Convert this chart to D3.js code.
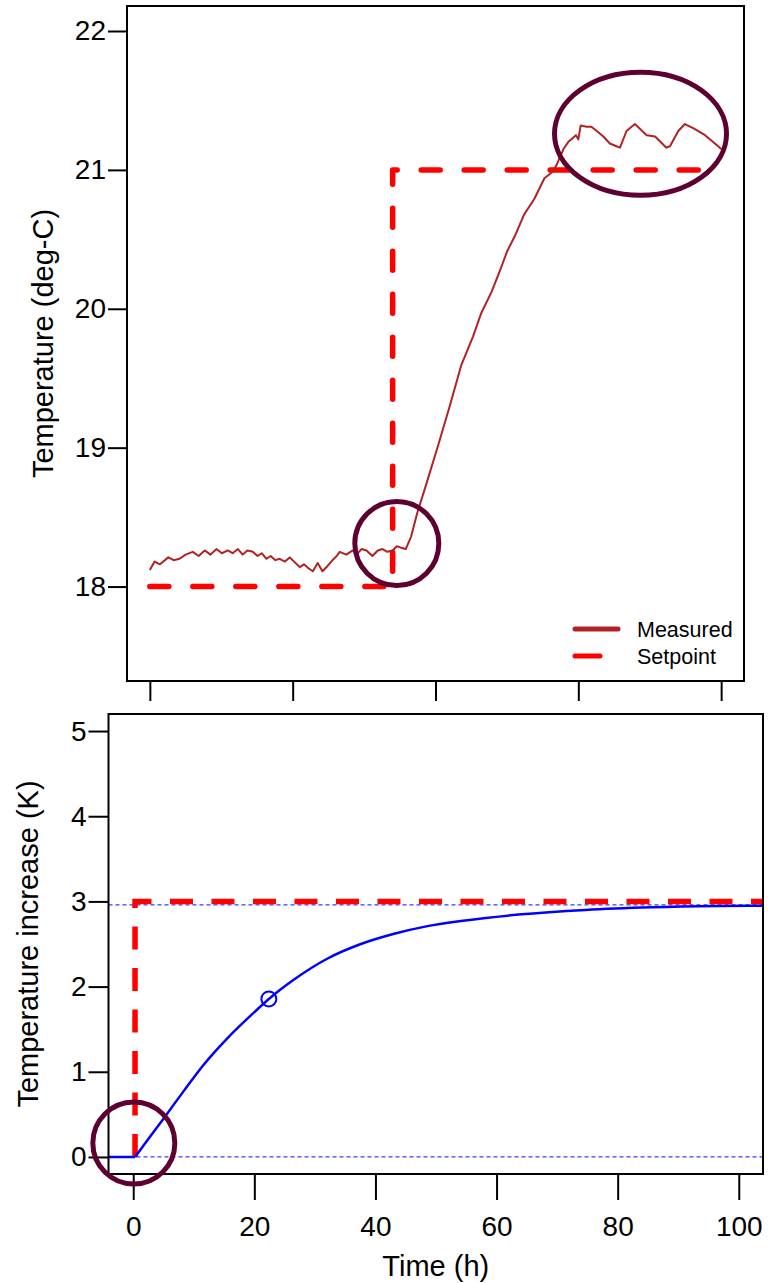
<!DOCTYPE html>
<html>
<head>
<meta charset="utf-8">
<script src="https://cdn.jsdelivr.net/npm/d3@7"></script>
<style>
body { margin: 0; background: #fff; }
</style>
</head>
<body>
<div id="wrapper"></div>
<script>
const width = 768
const height = 1283

// top panel: measured room temperature vs setpoint (time in h)
const measTime = [0, 0.8, 1.7, 3.1, 4.0, 5.0, 6.0, 7.2, 8.2, 9.2, 10.2, 11.2, 12.1, 13.1, 13.9, 14.8, 15.6, 16.4, 17.3, 18.1, 18.8, 19.6, 20.3, 21.1, 21.8, 22.7, 23.5, 24.0, 24.7, 25.2, 25.9, 26.7, 27.4, 28.2, 29.0, 29.9, 30.7, 31.4, 31.9, 33.0, 34.1, 34.9, 35.6, 36.4, 36.9, 37.4, 38.3, 39.1, 39.9, 40.8, 41.5, 42.2, 43.0, 43.9, 45.0, 46.4, 48.4, 50.4, 52.3, 54.3, 55.7, 57.4, 58.7, 60.1, 61.3, 62.9, 64.6, 66.3, 67.8, 68.5, 69.5, 70.3, 71.6, 72.0, 72.4, 73.4, 74.2, 75.1, 76.2, 77.3, 78.4, 79.0, 80.1, 81.5, 83.5, 84.9, 86.8, 87.4, 88.8, 89.9, 91.3, 93.3, 95.5, 96.0]
const measTemp = [18.12, 18.18, 18.16, 18.21, 18.19, 18.20, 18.23, 18.25, 18.22, 18.26, 18.23, 18.27, 18.24, 18.26, 18.24, 18.27, 18.23, 18.26, 18.25, 18.22, 18.24, 18.20, 18.22, 18.19, 18.20, 18.18, 18.21, 18.19, 18.16, 18.14, 18.16, 18.13, 18.11, 18.17, 18.11, 18.15, 18.19, 18.22, 18.25, 18.23, 18.26, 18.24, 18.27, 18.26, 18.24, 18.22, 18.26, 18.27, 18.25, 18.26, 18.29, 18.28, 18.27, 18.36, 18.54, 18.73, 19.01, 19.30, 19.59, 19.80, 19.97, 20.12, 20.26, 20.42, 20.52, 20.68, 20.79, 20.94, 20.99, 21.05, 21.15, 21.20, 21.25, 21.22, 21.32, 21.31, 21.31, 21.28, 21.24, 21.19, 21.17, 21.16, 21.28, 21.33, 21.25, 21.24, 21.16, 21.17, 21.28, 21.33, 21.30, 21.25, 21.17, 21.15]
const setTime = [0, 40.8, 40.8, 96]
const setTemp = [18, 18, 21, 21]
const topXTicks = [0, 24, 48, 72, 96]
const topYTicks = [18, 19, 20, 21, 22]
const legendLabels = ["Measured", "Setpoint"]

// bottom panel: step response of the model
const flatTime = [-4.5, 0.3]
const flatVal = [0, 0]
const respTime = [0.3, 2.8, 5.0, 8.3, 11.6, 15.5, 19.4, 22.4, 26.5, 32.1, 37.6, 43.1, 48.6, 54.1, 63.6, 74.7, 85.7, 96.7, 104.5]
const respVal = [0, 0.24, 0.45, 0.77, 1.08, 1.39, 1.66, 1.855, 2.08, 2.33, 2.50, 2.62, 2.71, 2.77, 2.845, 2.90, 2.93, 2.945, 2.95]
const stepTime = [0.3, 0.3, 106]
const stepVal = [0, 3, 3]
const refLevels = [0, 2.96]
const markTime = [22.4]
const markVal = [1.855]
const botXTicks = [0, 20, 40, 60, 80, 100]
const botYTicks = [0, 1, 2, 3, 4, 5]

const svg = d3.select("#wrapper").append("svg")
    .attr("width", width)
    .attr("height", height)
    .style("font-family", "'Liberation Sans', Arial, sans-serif")

const boxA = {left: 127, right: 744, top: 6, bottom: 681}
const boxB = {left: 108.5, right: 763, top: 714, bottom: 1174}

const xTop = d3.scaleLinear().domain([-3.84, 99.84]).range([boxA.left, boxA.right])
const yTop = d3.scaleLinear().domain([17.32, 22.18]).range([boxA.bottom, boxA.top])
const xBot = d3.scaleLinear().domain([-4, 104]).range([109, 763])
const yBot = d3.scaleLinear().domain([-0.2, 5.2]).range([boxB.bottom, boxB.top])

const defs = svg.append("defs")
defs.append("clipPath").attr("id", "clipA").append("rect")
    .attr("x", boxA.left).attr("y", boxA.top)
    .attr("width", boxA.right - boxA.left).attr("height", boxA.bottom - boxA.top)
defs.append("clipPath").attr("id", "clipB").append("rect")
    .attr("x", boxB.left).attr("y", boxB.top)
    .attr("width", boxB.right - boxB.left).attr("height", boxB.bottom - boxB.top)

function styleAxis(g, size) {
    g.select(".domain").remove()
    g.selectAll("line").attr("stroke", "#000").attr("stroke-width", 2)
    g.selectAll("text").attr("fill", "#000").style("font-size", size + "px")
}

// ---- top panel ----
svg.append("g")
    .attr("transform", `translate(${boxA.left},0)`)
    .call(d3.axisLeft(yTop).tickValues(topYTicks).tickSize(19).tickPadding(2).tickFormat(d3.format("d")))
    .call(g => styleAxis(g, 28))

svg.append("g")
    .attr("transform", `translate(0,${boxA.bottom + 1})`)
    .call(d3.axisBottom(xTop).tickValues(topXTicks).tickSize(19).tickFormat(""))
    .call(g => styleAxis(g, 28))

svg.append("text")
    .attr("transform", `translate(53,${(boxA.top + boxA.bottom) / 2}) rotate(-90)`)
    .attr("text-anchor", "middle")
    .style("font-size", "29px")
    .text("Temperature (deg-C)")

const plotA = svg.append("g").attr("clip-path", "url(#clipA)")

plotA.append("path")
    .datum(setTime.map((t, i) => [t, setTemp[i]]))
    .attr("fill", "none")
    .attr("stroke", "#ff0000")
    .attr("stroke-width", 5.5)
    .attr("stroke-dasharray", "19,24")
    .attr("stroke-linecap", "round")
    .attr("stroke-linejoin", "round")
    .attr("d", d3.line().x(d => xTop(d[0])).y(d => yTop(d[1])))

plotA.append("path")
    .datum(measTime.map((t, i) => [t, measTemp[i]]))
    .attr("fill", "none")
    .attr("stroke", "#b22222")
    .attr("stroke-width", 2)
    .attr("stroke-linejoin", "round")
    .attr("d", d3.line().x(d => xTop(d[0])).y(d => yTop(d[1])))

svg.append("rect")
    .attr("x", boxA.left).attr("y", boxA.top)
    .attr("width", boxA.right - boxA.left).attr("height", boxA.bottom - boxA.top)
    .attr("fill", "none").attr("stroke", "#000").attr("stroke-width", 2)

// legend
const legend = svg.append("g").attr("transform", `translate(${boxA.right - 169},${boxA.bottom - 52})`)
legend.selectAll("line")
    .data(legendLabels)
    .join("line")
    .attr("x1", 0)
    .attr("x2", (d, i) => i === 0 ? 43 : 25)
    .attr("y1", (d, i) => i * 27)
    .attr("y2", (d, i) => i * 27)
    .attr("stroke", (d, i) => i === 0 ? "#b22222" : "#ff0000")
    .attr("stroke-width", 5)
    .attr("stroke-linecap", "round")
legend.selectAll("text")
    .data(legendLabels)
    .join("text")
    .attr("x", 62)
    .attr("y", (d, i) => i * 27 + 8)
    .style("font-size", "21.5px")
    .text(d => d)

// ---- bottom panel ----
svg.append("g")
    .attr("transform", `translate(${boxB.left},0)`)
    .call(d3.axisLeft(yBot).tickValues(botYTicks).tickSize(20).tickPadding(2).tickFormat(d3.format("d")))
    .call(g => styleAxis(g, 28))

svg.append("g")
    .attr("transform", `translate(0,${boxB.bottom + 1})`)
    .call(d3.axisBottom(xBot).tickValues(botXTicks).tickSize(25).tickPadding(16))
    .call(g => styleAxis(g, 28))

svg.append("text")
    .attr("transform", `translate(38,${(boxB.top + boxB.bottom) / 2}) rotate(-90)`)
    .attr("text-anchor", "middle")
    .style("font-size", "29px")
    .text("Temperature increase (K)")

svg.append("text")
    .attr("x", (boxB.left + boxB.right) / 2)
    .attr("y", 1276)
    .attr("text-anchor", "middle")
    .style("font-size", "29px")
    .text("Time (h)")

const plotB = svg.append("g").attr("clip-path", "url(#clipB)")

plotB.selectAll(".ref")
    .data(refLevels)
    .join("line")
    .attr("class", "ref")
    .attr("x1", boxB.left).attr("x2", boxB.right)
    .attr("y1", d => yBot(d)).attr("y2", d => yBot(d))
    .attr("stroke", "#3a3aff")
    .attr("stroke-width", 1.2)
    .attr("stroke-dasharray", "4,3")

plotB.append("path")
    .datum(stepTime.map((t, i) => [t, stepVal[i]]))
    .attr("fill", "none")
    .attr("stroke", "#ff0000")
    .attr("stroke-width", 5.5)
    .attr("stroke-dasharray", "23,18.5")
    .attr("d", d3.line().x(d => xBot(d[0])).y(d => yBot(d[1])))

const respLine = d3.line().x(d => xBot(d[0])).y(d => yBot(d[1]))

plotB.append("path")
    .datum(flatTime.map((t, i) => [t, flatVal[i]]))
    .attr("fill", "none")
    .attr("stroke", "#0000ff")
    .attr("stroke-width", 2.5)
    .attr("d", respLine)

plotB.append("path")
    .datum(respTime.map((t, i) => [t, respVal[i]]))
    .attr("fill", "none")
    .attr("stroke", "#0000ff")
    .attr("stroke-width", 2.5)
    .attr("stroke-linejoin", "round")
    .attr("d", respLine.curve(d3.curveMonotoneX))

plotB.selectAll(".mark")
    .data(markTime)
    .join("circle")
    .attr("class", "mark")
    .attr("cx", d => xBot(d))
    .attr("cy", (d, i) => yBot(markVal[i]))
    .attr("r", 7.5)
    .attr("fill", "none")
    .attr("stroke", "#0000ff")
    .attr("stroke-width", 2)

svg.append("rect")
    .attr("x", boxB.left).attr("y", boxB.top)
    .attr("width", boxB.right - boxB.left).attr("height", boxB.bottom - boxB.top)
    .attr("fill", "none").attr("stroke", "#000").attr("stroke-width", 2)

// highlight rings drawn over both panels
const ringColor = "#5e0030"
svg.append("circle")
    .attr("cx", xTop(41.5)).attr("cy", yTop(18.31)).attr("r", 42)
    .attr("fill", "none").attr("stroke", ringColor).attr("stroke-width", 5)
svg.append("ellipse")
    .attr("cx", xTop(82.45)).attr("cy", yTop(21.26)).attr("rx", 86).attr("ry", 61.5)
    .attr("fill", "none").attr("stroke", ringColor).attr("stroke-width", 5)
svg.append("circle")
    .attr("cx", xBot(0.1)).attr("cy", yBot(0.165)).attr("r", 41)
    .attr("fill", "none").attr("stroke", ringColor).attr("stroke-width", 5)
</script>
</body>
</html>
